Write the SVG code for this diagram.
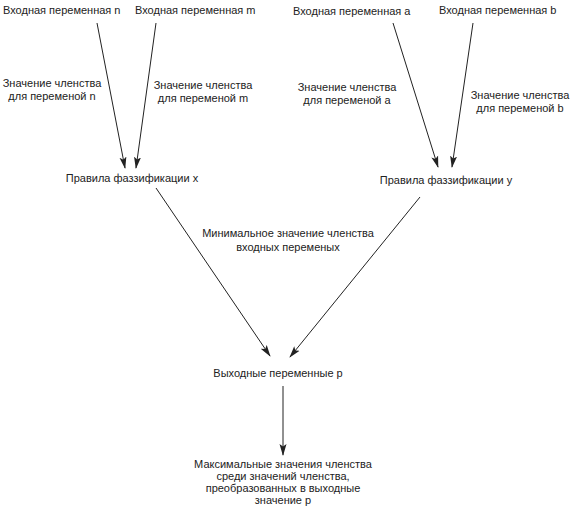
<svg xmlns="http://www.w3.org/2000/svg" width="571" height="507" viewBox="0 0 571 507">
<defs>
<style>
text{font-family:"Liberation Sans",Arial,sans-serif;font-size:11px;fill:#222}
.c{text-anchor:middle}
.ln{stroke:#222;stroke-width:1;fill:none;marker-end:url(#ah)}
</style>
<marker id="ah" viewBox="0 0 12 8" refX="11" refY="4" markerWidth="12" markerHeight="8" markerUnits="userSpaceOnUse" orient="auto">
<path d="M0,0.5 L12,4 L0,7.5 L2.5,4 z" fill="#222"/>
</marker>
</defs>
<rect width="571" height="507" fill="#fff"/>
<g id="in-n"><text x="3" y="14">Входная переменная n</text></g>
<g id="in-m"><text x="135" y="14">Входная переменная m</text></g>
<g id="in-a"><text x="293" y="15">Входная переменная a</text></g>
<g id="in-b"><text x="439" y="14">Входная переменная b</text></g>
<g id="rule-x"><text class="c" x="132" y="182">Правила фаззификации x</text></g>
<g id="rule-y"><text class="c" x="446" y="184">Правила фаззификации y</text></g>
<g id="out-p"><text class="c" x="278" y="377">Выходные переменные p</text></g>
<g id="result"><text class="c" x="283" y="467.5">Максимальные значения членства</text><text class="c" x="283" y="479.5">среди значений членства,</text><text class="c" x="283" y="491.5">преобразованных в выходные</text><text class="c" x="283" y="503.5">значение p</text></g>
<g id="connectors">
<line class="ln" x1="97" y1="23" x2="125" y2="168"/>
<line class="ln" x1="156" y1="23" x2="136" y2="168"/>
<line class="ln" x1="393" y1="23" x2="438" y2="167"/>
<line class="ln" x1="473" y1="23" x2="452" y2="167"/>
<line class="ln" x1="156" y1="188" x2="270" y2="356"/>
<line class="ln" x1="420" y1="197" x2="290" y2="357"/>
<line class="ln" x1="283" y1="386" x2="283" y2="455"/>
</g>
<g id="labels">
<text class="c" x="52" y="87">Значение членства</text><text class="c" x="52" y="100">для переменой n</text>
<text class="c" x="203" y="89">Значение членства</text><text class="c" x="203" y="102">для переменой m</text>
<text class="c" x="347" y="91">Значение членства</text><text class="c" x="347" y="104">для переменой a</text>
<text class="c" x="520" y="99">Значение членства</text><text class="c" x="520" y="112">для переменой b</text>
<text class="c" x="288" y="237">Минимальное значение членства</text><text class="c" x="288" y="251">входных переменых</text>
</g>
</svg>
